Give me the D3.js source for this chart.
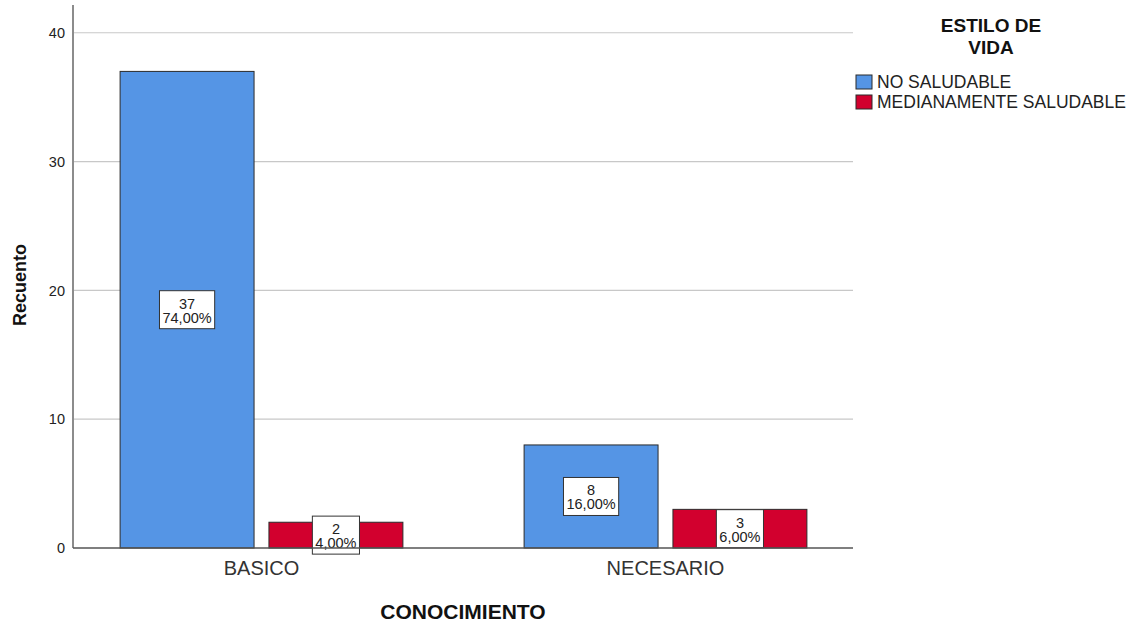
<!DOCTYPE html>
<html>
<head>
<meta charset="utf-8">
<script src="https://cdn.jsdelivr.net/npm/d3@7"></script>
<style>
  body { margin: 0; background: #fff; }
  svg { display: block; font-family: Arial, "Liberation Sans", sans-serif; }
</style>
</head>
<body>
<svg id="chart" width="1137" height="625"></svg>
<script>
// Counts of "estilo de vida" by level of "conocimiento"
const categories = ["BASICO", "NECESARIO"];
const series = ["NO SALUDABLE", "MEDIANAMENTE SALUDABLE"];
const noSaludable = [37, 8];
const medianamenteSaludable = [2, 3];
const percentLabels = [["74,00%", "16,00%"], ["4,00%", "6,00%"]];
const yTicks = [0, 10, 20, 30, 40];
const colors = ["#5595e5", "#d2002e"];

const valuesBySeries = [noSaludable, medianamenteSaludable];
const rows = [];
categories.forEach((c, ci) => {
  series.forEach((s, si) => {
    rows.push({ cat: c, series: s, si, value: valuesBySeries[si][ci], pct: percentLabels[si][ci] });
  });
});

const svg = d3.select("#chart");
const plotLeft = 73, plotRight = 853;

const y = d3.scaleLinear().domain([0, 42]).range([548, 7]);
const x0 = d3.scaleBand().domain(categories).range([59.5, 867.5])
  .paddingInner(0.3).paddingOuter(0.15);
const x1 = d3.scaleBand().domain(series).range([0, x0.bandwidth()])
  .paddingInner(0.1).paddingOuter(0);

// gridlines
svg.append("g").selectAll("line").data(yTicks.filter(d => d > 0)).join("line")
  .attr("x1", plotLeft).attr("x2", plotRight)
  .attr("y1", d => y(d)).attr("y2", d => y(d))
  .attr("stroke", "#c8c8c8").attr("stroke-width", 1.2);

// y axis
const yAxis = d3.axisLeft(y).tickValues(yTicks).tickSize(0).tickPadding(8);
const gy = svg.append("g").attr("transform", `translate(${plotLeft},0)`).call(yAxis);
gy.select(".domain").remove();
gy.selectAll("text").attr("font-size", 14.5).attr("fill", "#222")
  .attr("font-family", "Arial, 'Liberation Sans', sans-serif");
svg.append("line").attr("x1", plotLeft).attr("x2", plotLeft)
  .attr("y1", y(42) - 2).attr("y2", y(0))
  .attr("stroke", "#8c8c8c").attr("stroke-width", 2);

// bars
const groups = svg.append("g").selectAll("g").data(categories).join("g")
  .attr("transform", d => `translate(${x0(d)},0)`);
groups.selectAll("rect").data(c => rows.filter(r => r.cat === c)).join("rect")
  .attr("x", d => x1(d.series))
  .attr("width", x1.bandwidth())
  .attr("y", d => y(d.value))
  .attr("height", d => y(0) - y(d.value))
  .attr("fill", d => colors[d.si])
  .attr("stroke", "#2b2b2b").attr("stroke-width", 1);

// x axis baseline
svg.append("line").attr("x1", plotLeft).attr("x2", plotRight)
  .attr("y1", y(0)).attr("y2", y(0))
  .attr("stroke", "#555").attr("stroke-width", 1.5);

// value labels
const labels = groups.selectAll("g.lbl").data(c => rows.filter(r => r.cat === c)).join("g")
  .attr("class", "lbl")
  .attr("transform", d => `translate(${x1(d.series) + x1.bandwidth() / 2},${(y(d.value) + y(0)) / 2})`);
labels.each(function(d) {
  const g = d3.select(this);
  const box = g.append("rect").attr("fill", "#fff").attr("stroke", "#333").attr("stroke-width", 1);
  const t1 = g.append("text").attr("text-anchor", "middle").attr("y", -1)
    .attr("font-size", 14.5).attr("fill", "#222").text(d.value);
  const t2 = g.append("text").attr("text-anchor", "middle").attr("y", 13)
    .attr("font-size", 14.5).attr("fill", "#222").text(d.pct);
  const w = Math.max(t1.node().getComputedTextLength(), t2.node().getComputedTextLength()) + 6;
  box.attr("x", -w / 2).attr("y", -19).attr("width", w).attr("height", 38);
});

// category labels
const xAxis = d3.axisBottom(x0).tickSize(0).tickPadding(13);
const gx = svg.append("g").attr("transform", `translate(0,${y(0)})`).call(xAxis);
gx.select(".domain").remove();
gx.selectAll("text").attr("font-size", 20).attr("fill", "#333")
  .attr("font-family", "Arial, 'Liberation Sans', sans-serif");

// axis titles
svg.append("text").attr("x", 463).attr("y", 619).attr("text-anchor", "middle")
  .attr("font-size", 21).attr("font-weight", "bold").attr("fill", "#111").text("CONOCIMIENTO");
svg.append("text").attr("transform", "translate(26,285) rotate(-90)").attr("text-anchor", "middle")
  .attr("font-size", 18).attr("font-weight", "bold").attr("fill", "#111").text("Recuento");

// legend
const legend = svg.append("g");
legend.append("text").attr("x", 991).attr("y", 32).attr("text-anchor", "middle")
  .attr("font-size", 19).attr("font-weight", "bold").attr("fill", "#111").text("ESTILO DE");
legend.append("text").attr("x", 991).attr("y", 54).attr("text-anchor", "middle")
  .attr("font-size", 19).attr("font-weight", "bold").attr("fill", "#111").text("VIDA");
const items = legend.selectAll("g.item").data(series).join("g").attr("class", "item")
  .attr("transform", (d, i) => `translate(856,${75 + i * 20})`);
items.append("rect").attr("width", 16).attr("height", 14)
  .attr("fill", (d, i) => colors[i]).attr("stroke", "#2b2b2b").attr("stroke-width", 1);
items.append("text").attr("x", 21).attr("y", 13).attr("font-size", 17.5).attr("fill", "#222").text(d => d);
</script>
</body>
</html>
